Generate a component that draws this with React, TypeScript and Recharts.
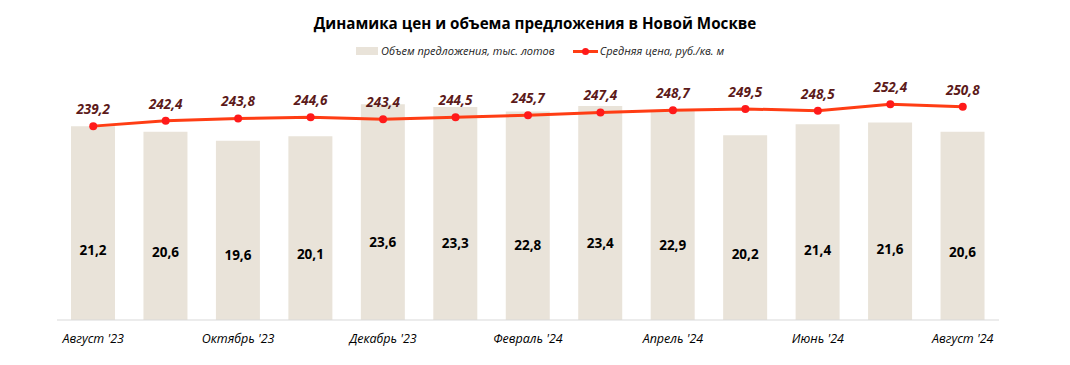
import React from "react";
import { ComposedChart, Bar, Line, XAxis, YAxis, LabelList } from "recharts";

const months = [
  "Август '23", "Сентябрь '23", "Октябрь '23", "Ноябрь '23", "Декабрь '23",
  "Январь '24", "Февраль '24", "Март '24", "Апрель '24", "Май '24",
  "Июнь '24", "Июль '24", "Август '24",
];
const volume = [21.2, 20.6, 19.6, 20.1, 23.6, 23.3, 22.8, 23.4, 22.9, 20.2, 21.4, 21.6, 20.6];
const price = [239.2, 242.4, 243.8, 244.6, 243.4, 244.5, 245.7, 247.4, 248.7, 249.5, 248.5, 252.4, 250.8];

const data = months.map((m, i) => ({ month: m, volume: volume[i], price: price[i] }));

const FONT = "'Open Sans', 'Noto Sans', sans-serif";
const fmt = (v: number) => v.toFixed(1).replace(".", ",");

const BarLabel = (props: any) => {
  const { x, y, width, height, value } = props;
  const cx = x + width / 2;
  const cy = y + height - height * 0.36;
  return (
    <text x={cx} y={cy} textAnchor="middle" dominantBaseline="central"
      fontFamily={FONT} fontWeight={700} fontSize={13.5} fill="#000">
      {fmt(value)}
    </text>
  );
};

const PriceLabel = (props: any) => {
  const { x, y, value } = props;
  return (
    <text x={x} y={y - 12} textAnchor="middle"
      fontFamily={FONT} fontWeight={700} fontStyle="italic" fontSize={13.5} fill="#5c1a1a">
      {fmt(value)}
    </text>
  );
};

export default function App() {
  const W = 1054;
  const H = 349;
  return (
    <div style={{ position: "relative", width: W, height: H, fontFamily: FONT }}>
      <div style={{ position: "absolute", top: 5, left: 0, width: W, textAlign: "center", fontWeight: 700, fontSize: 15.2, color: "#000" }}>
        Динамика цен и объема предложения в Новой Москве
      </div>
      <div style={{ position: "absolute", top: 35, left: 348, display: "flex", alignItems: "center", fontStyle: "italic", fontSize: 11, color: "#222" }}>
        <span style={{ display: "inline-block", width: 22, height: 8, background: "#e9e3d9", marginRight: 3 }} />
        <span>Объем предложения, тыс. лотов</span>
        <span style={{ display: "inline-block", position: "relative", width: 25, height: 10, marginLeft: 18, marginRight: 2 }}>
          <span style={{ position: "absolute", left: 0, top: 4, width: 25, height: 3, background: "#ff3d14" }} />
          <span style={{ position: "absolute", left: 9, top: 2, width: 7, height: 7, borderRadius: 4, background: "#ff1a1a" }} />
        </span>
        <span>Средняя цена, руб./кв. м</span>
      </div>
      <ComposedChart width={W} height={H} data={data}
        margin={{ top: 56, right: 63, bottom: 7, left: 49 }}
        style={{ position: "absolute", top: 0, left: 0 }}>
        <XAxis dataKey="month" interval={1} tickLine={false}
          axisLine={{ stroke: "#d9d9d9", strokeWidth: 1 }} height={30}
          tick={{ fontFamily: FONT, fontStyle: "italic", fontSize: 12.5, fill: "#000" }} tickMargin={8} />
        <YAxis yAxisId="v" hide domain={[0, 28]} />
        <YAxis yAxisId="p" hide orientation="right" domain={[122.8, 276.5]} />
        <Bar yAxisId="v" dataKey="volume" fill="#e9e3d9" barSize={44} isAnimationActive={false}>
          <LabelList dataKey="volume" content={BarLabel} />
        </Bar>
        <Line yAxisId="p" dataKey="price" stroke="#ff3d14" strokeWidth={3}
          dot={{ r: 4, fill: "#ff1a1a", stroke: "#ff1a1a", strokeWidth: 0 }}
          isAnimationActive={false}>
          <LabelList dataKey="price" content={PriceLabel} />
        </Line>
      </ComposedChart>
    </div>
  );
}
